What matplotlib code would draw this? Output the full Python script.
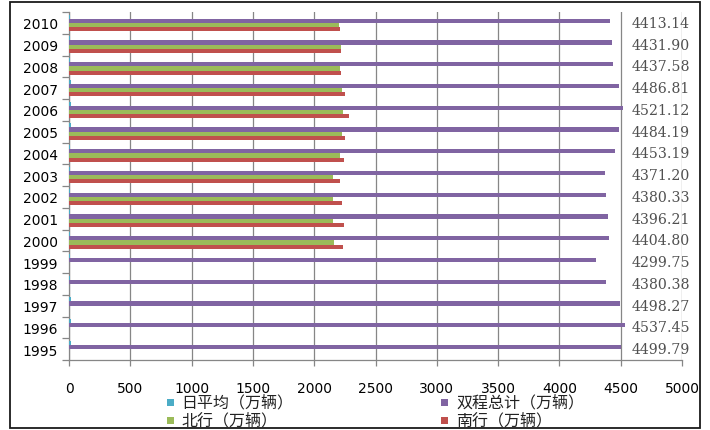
import matplotlib
matplotlib.use("Agg")
import matplotlib.pyplot as plt
from matplotlib.patches import Rectangle
import numpy as np

# Cross-harbour vehicle traffic by year (10k vehicles)
years = ["1995", "1996", "1997", "1998", "1999", "2000", "2001", "2002",
         "2003", "2004", "2005", "2006", "2007", "2008", "2009", "2010"]
daily_avg = [12.33, 12.40, 12.32, 12.00, 11.78, 12.04, 12.04, 12.00,
             11.98, 12.17, 12.29, 12.39, 12.29, 12.12, 12.14, 12.09]
round_trip = [4499.79, 4537.45, 4498.27, 4380.38, 4299.75, 4404.80, 4396.21,
              4380.33, 4371.20, 4453.19, 4484.19, 4521.12, 4486.81, 4437.58,
              4431.90, 4413.14]
northbound = [0, 0, 0, 0, 0, 2165, 2155, 2150, 2155, 2210, 2225, 2235,
              2230, 2210, 2215, 2200]
southbound = [0, 0, 0, 0, 0, 2235, 2240, 2230, 2210, 2240, 2255, 2280,
              2255, 2220, 2215, 2210]

series_names = ["日平均（万辆）", "双程总计（万辆）", "北行（万辆）", "南行（万辆）"]
colors = ["#4BACC6", "#8064A2", "#9BBB59", "#C0504D"]

W, H = 710, 431
fig = plt.figure(figsize=(W / 100, H / 100), dpi=100)
ax = fig.add_axes([69 / W, 1 - 361 / H, (682 - 69) / W, (361 - 13) / H])

y = np.arange(len(years))
h = 0.19
series = [daily_avg, round_trip, northbound, southbound]
offsets = [1.5 * h, 0.5 * h, -0.5 * h, -1.5 * h]
for vals, off, col in zip(series, offsets, colors):
    ax.barh(y + off, vals, height=h, color=col, zorder=3, linewidth=0)

ax.set_xlim(0, 5000)
ax.set_ylim(-0.5, len(years) - 0.5)
ax.set_xticks(np.arange(0, 5001, 500))
ax.set_yticks(y)
ax.set_yticklabels(years)
ax.set_yticks(np.arange(-0.5, len(years), 1), minor=True)

grid_col = "#868686"
ax.grid(axis="x", color=grid_col, linewidth=0.9, zorder=0)
ax.tick_params(axis="y", which="major", length=0, pad=8, labelsize=10)
ax.tick_params(axis="y", which="minor", length=5, color=grid_col, width=0.9)
ax.tick_params(axis="x", length=4, color=grid_col, width=0.9, pad=11,
               labelsize=10)
for s in ["top", "right"]:
    ax.spines[s].set_visible(False)
for s in ["left", "bottom"]:
    ax.spines[s].set_color(grid_col)
    ax.spines[s].set_linewidth(0.9)

# value column on the right, drawn over the gridlines
ax.add_patch(Rectangle((4575, -0.3), 600, len(years) - 0.2, facecolor="white",
                       edgecolor="none", zorder=1, clip_on=False))
for yi, v in zip(y, round_trip):
    ax.text(5065, yi, f"{v:.2f}", ha="right", va="center", fontsize=10.2,
            family="DejaVu Serif", color="#505050", zorder=4, clip_on=False)

# legend
cjk = ["Noto Sans CJK SC", "DejaVu Sans"]
legend_pos = [(170, 403), (445, 403), (170, 421), (445, 421)]
for (px, py), name, col in zip(legend_pos, series_names, colors):
    fig.patches.append(Rectangle(((px - 3.5) / W, 1 - (py + 3.5) / H), 7 / W, 7 / H,
                                 transform=fig.transFigure, facecolor=col,
                                 edgecolor="none"))
    fig.text((px + 11) / W, 1 - py / H, name, ha="left", va="center",
             fontsize=11.5, family=cjk, color="#222222")

# outer frame
fig.patches.append(Rectangle((10 / W, 1 - 429 / H), 690 / W, 426 / H,
                             transform=fig.transFigure, facecolor="none",
                             edgecolor="#1a1a1a", linewidth=1.3))

fig.savefig("out.png", dpi=100)
